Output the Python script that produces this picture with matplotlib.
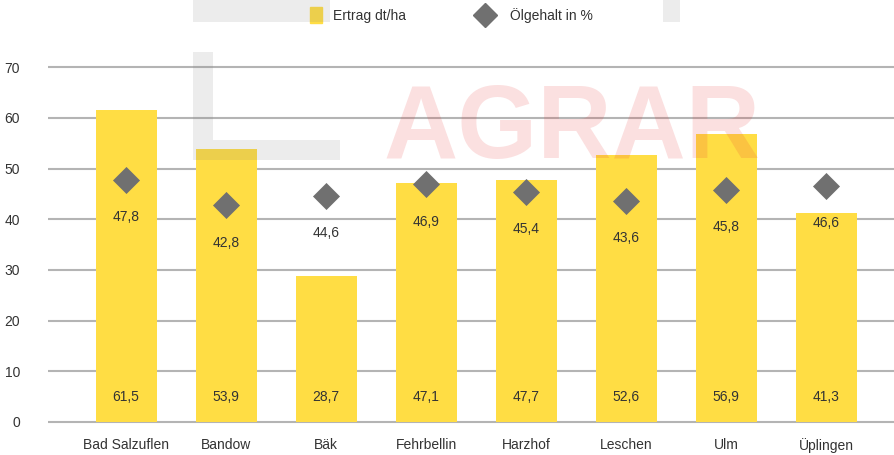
import numpy as np
import matplotlib
matplotlib.use("Agg")
import matplotlib.pyplot as plt
from matplotlib.patches import Rectangle
from matplotlib.lines import Line2D

plt.rcParams['font.family'] = ['Liberation Sans', 'DejaVu Sans']

# data
standorte = ["Bad Salzuflen", "Bandow", "Bäk", "Fehrbellin", "Harzhof",
             "Leschen", "Ulm", "Üplingen"]
ertrag = [61.5, 53.9, 28.7, 47.1, 47.7, 52.6, 56.9, 41.3]
oelgehalt = [47.8, 42.8, 44.6, 46.9, 45.4, 43.6, 45.8, 46.6]
yticks = [0, 10, 20, 30, 40, 50, 60, 70]

bar_col = "#FFDD44"
dia_col = "#707070"
txt_col = "#333333"

def de(v):
    return f"{v:.1f}".replace(".", ",")

fig = plt.figure(figsize=(8.94, 4.55), dpi=100)
ax = fig.add_axes([0.0537, 0.067, 0.9463, 0.791])

x = np.arange(len(standorte))

# grid lines behind bars
for t in yticks:
    ax.axhline(t, color="#b4b4b4", lw=1.5, zorder=0)

ax.bar(x, ertrag, width=0.61, color=bar_col, zorder=2)
ax.scatter(x, oelgehalt, marker="D", s=190, color=dia_col, zorder=4,
           linewidths=0)

# value labels
for i in range(len(x)):
    ax.text(x[i], 5, de(ertrag[i]), ha="center", va="center",
            fontsize=10, color=txt_col, zorder=5)
    ax.annotate(de(oelgehalt[i]), (x[i], oelgehalt[i]),
                xytext=(0, -27), textcoords="offset points",
                ha="center", va="center", fontsize=10, color=txt_col,
                zorder=5)

ax.set_xlim(-0.78, 7.68)
ax.set_ylim(-0.5, 70.5)
ax.set_xticks(x)
ax.set_xticklabels(standorte, fontsize=10, color=txt_col)
ax.set_yticks(yticks)
ax.set_yticklabels([str(t) for t in yticks], fontsize=10, color=txt_col)
ax.tick_params(axis="both", length=0)
ax.tick_params(axis="y", pad=20)
ax.tick_params(axis="x", pad=10)
for s in ax.spines.values():
    s.set_visible(False)
ax.set_facecolor("none")

# legend
fig.patches.append(Rectangle((310 / 894, 1 - 23 / 455), 12 / 894, 16 / 455,
                             transform=fig.transFigure, color=bar_col))
fig.text(333 / 894, 1 - 16 / 455, "Ertrag dt/ha", fontsize=10,
         color=txt_col, va="center")
fig.add_artist(Line2D([485 / 894], [1 - 15 / 455], marker="D",
                      markersize=12, color=dia_col, linestyle="none",
                      transform=fig.transFigure))
fig.text(510 / 894, 1 - 16 / 455, "Ölgehalt in %", fontsize=10,
         color=txt_col, va="center")

# watermark
fig.text(383 / 894, 1 - 158 / 455, "AGRAR", fontsize=74, fontweight="bold",
         color="#e83030", alpha=0.15, va="baseline", zorder=10)
wm = dict(transform=fig.transFigure, color="#808080", alpha=0.15,
          linewidth=0, zorder=10)
fig.patches.append(Rectangle((193 / 894, 1 - 160 / 455), 20 / 894,
                             108 / 455, **wm))
fig.patches.append(Rectangle((213 / 894, 1 - 160 / 455), 127 / 894,
                             20 / 455, **wm))
fig.patches.append(Rectangle((193 / 894, 1 - 22 / 455), 137 / 894,
                             22 / 455, **wm))
fig.patches.append(Rectangle((663 / 894, 1 - 22 / 455), 17 / 894,
                             22 / 455, **wm))

fig.savefig("out.png", dpi=100)
